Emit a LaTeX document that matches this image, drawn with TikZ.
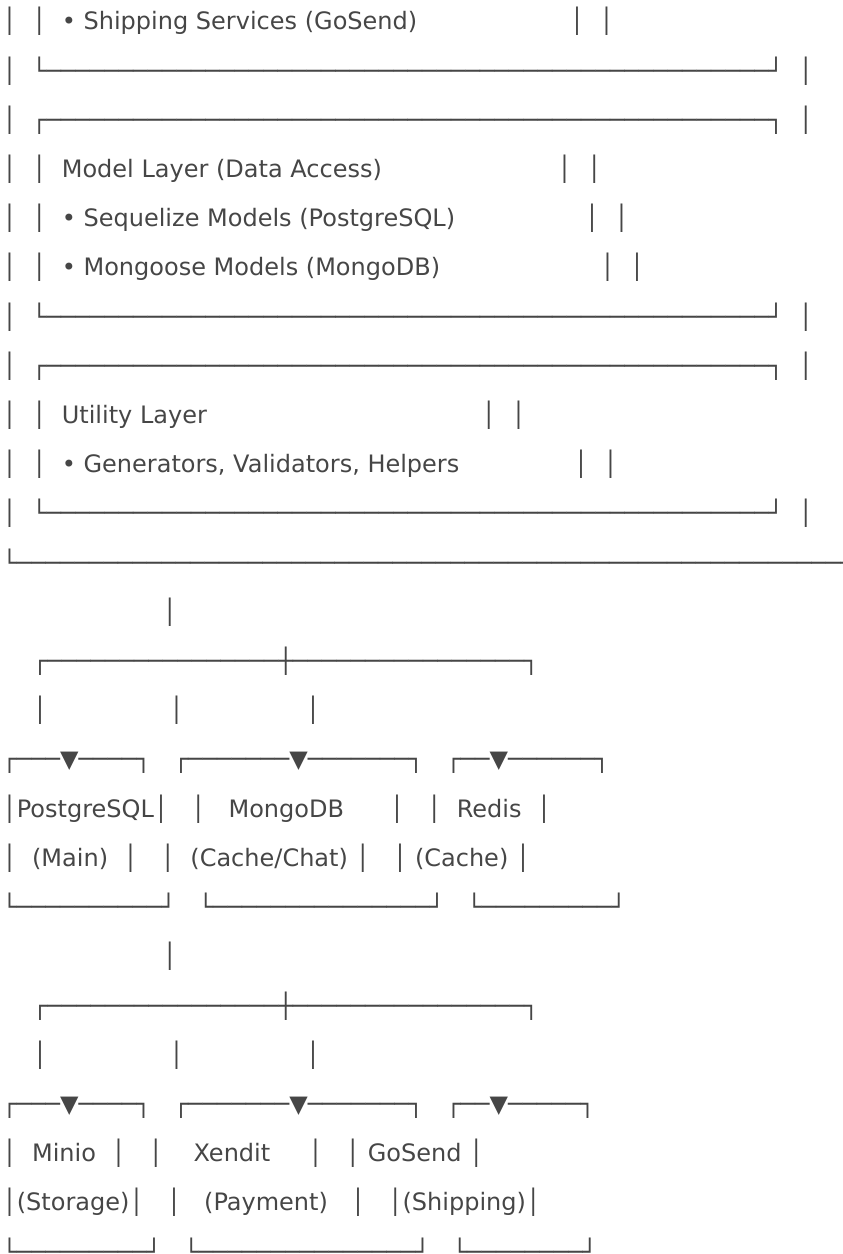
\documentclass[tikz,border=0pt]{standalone}
\usepackage{fontspec}
\setmainfont{DejaVu Sans}
\definecolor{ink}{HTML}{464646}
\ExplSyntaxOn
\NewDocumentCommand\rep{mm}{\prg_replicate:nn{#1}{#2}}
\ExplSyntaxOff
\newcommand\hz[1]{\rep{#1}{─}}
\newcommand\gap[1]{\hspace*{#1\fontdimen2\font}}
\frenchspacing
\tikzset{row/.style={anchor=base west, inner sep=0pt, outer sep=0pt, text=ink, font=\fontsize{24}{24}\selectfont}}
\begin{document}
\begin{tikzpicture}[x=1pt,y=-1pt]
\useasboundingbox (0,0) rectangle (843,1254);
\clip (0,0) rectangle (843,1254);
\node[row] (l1) at (2.4,29.8) {│\gap{2}│\gap{2}•\gap{1}Shipping Services (GoSend)\gap{20}│\gap{2}│};
\node[row] (l2) at (2.4,79.0) {│\gap{2}└\hz{50}┘\gap{2}│};
\node[row] (l3) at (2.4,128.2) {│\gap{2}┌\hz{50}┐\gap{2}│};
\node[row] (l4) at (2.4,177.4) {│\gap{2}│\gap{2}Model Layer (Data Access)\gap{23}│\gap{2}│};
\node[row] (l5) at (2.4,226.6) {│\gap{2}│\gap{2}•\gap{1}Sequelize Models (PostgreSQL)\gap{17}│\gap{2}│};
\node[row] (l6) at (2.4,275.9) {│\gap{2}│\gap{2}•\gap{1}Mongoose Models (MongoDB)\gap{21}│\gap{2}│};
\node[row] (l7) at (2.4,325.1) {│\gap{2}└\hz{50}┘\gap{2}│};
\node[row] (l8) at (2.4,374.3) {│\gap{2}┌\hz{50}┐\gap{2}│};
\node[row] (l9) at (2.4,423.5) {│\gap{2}│\gap{2}Utility Layer\gap{36}│\gap{2}│};
\node[row] (l10) at (2.4,472.7) {│\gap{2}│\gap{2}•\gap{1}Generators, Validators, Helpers\gap{15}│\gap{2}│};
\node[row] (l11) at (2.4,521.9) {│\gap{2}└\hz{50}┘\gap{2}│};
\node[row] (l12) at (2.4,571.1) {└\hz{58}};
\node[row] (l13) at (2.4,620.3) {\gap{21}│};
\node[row] (l14) at (2.4,669.5) {\gap{4}┌\hz{16}┼\hz{16}┐};
\node[row] (l15) at (2.4,718.7) {\gap{4}│\gap{16}│\gap{16}│};
\node[row] (l16) at (2.4,767.9) {┌\hz{3}▼\hz{4}┐\gap{3}┌\hz{7}▼\hz{7}┐\gap{3}┌\hz{2}▼\hz{6}┐};
\node[row] (l17) at (2.4,817.2) {│PostgreSQL│\gap{3}│\gap{3}MongoDB\gap{6}│\gap{3}│\gap{2}Redis\gap{2}│};
\node[row] (l18) at (2.4,866.4) {│\gap{2}(Main)\gap{2}│\gap{3}│\gap{2}(Cache/Chat)\gap{1}│\gap{3}│\gap{1}(Cache)\gap{1}│};
\node[row] (l19) at (2.4,915.6) {└\hz{10}┘\gap{3}└\hz{15}┘\gap{3}└\hz{9}┘};
\node[row] (l20) at (2.4,964.8) {\gap{21}│};
\node[row] (l21) at (2.4,1014.0) {\gap{4}┌\hz{16}┼\hz{16}┐};
\node[row] (l22) at (2.4,1063.2) {\gap{4}│\gap{16}│\gap{16}│};
\node[row] (l23) at (2.4,1112.4) {┌\hz{3}▼\hz{4}┐\gap{3}┌\hz{7}▼\hz{7}┐\gap{3}┌\hz{2}▼\hz{5}┐};
\node[row] (l24) at (2.4,1161.6) {│\gap{2}Minio\gap{2}│\gap{3}│\gap{4}Xendit\gap{5}│\gap{3}│\gap{1}GoSend\gap{1}│};
\node[row] (l25) at (2.4,1210.8) {│(Storage)│\gap{3}│\gap{3}(Payment)\gap{3}│\gap{3}│(Shipping)│};
\node[row] (l26) at (2.4,1260.1) {└\hz{9}┘\gap{3}└\hz{15}┘\gap{3}└\hz{8}┘};
\end{tikzpicture}
\end{document}
